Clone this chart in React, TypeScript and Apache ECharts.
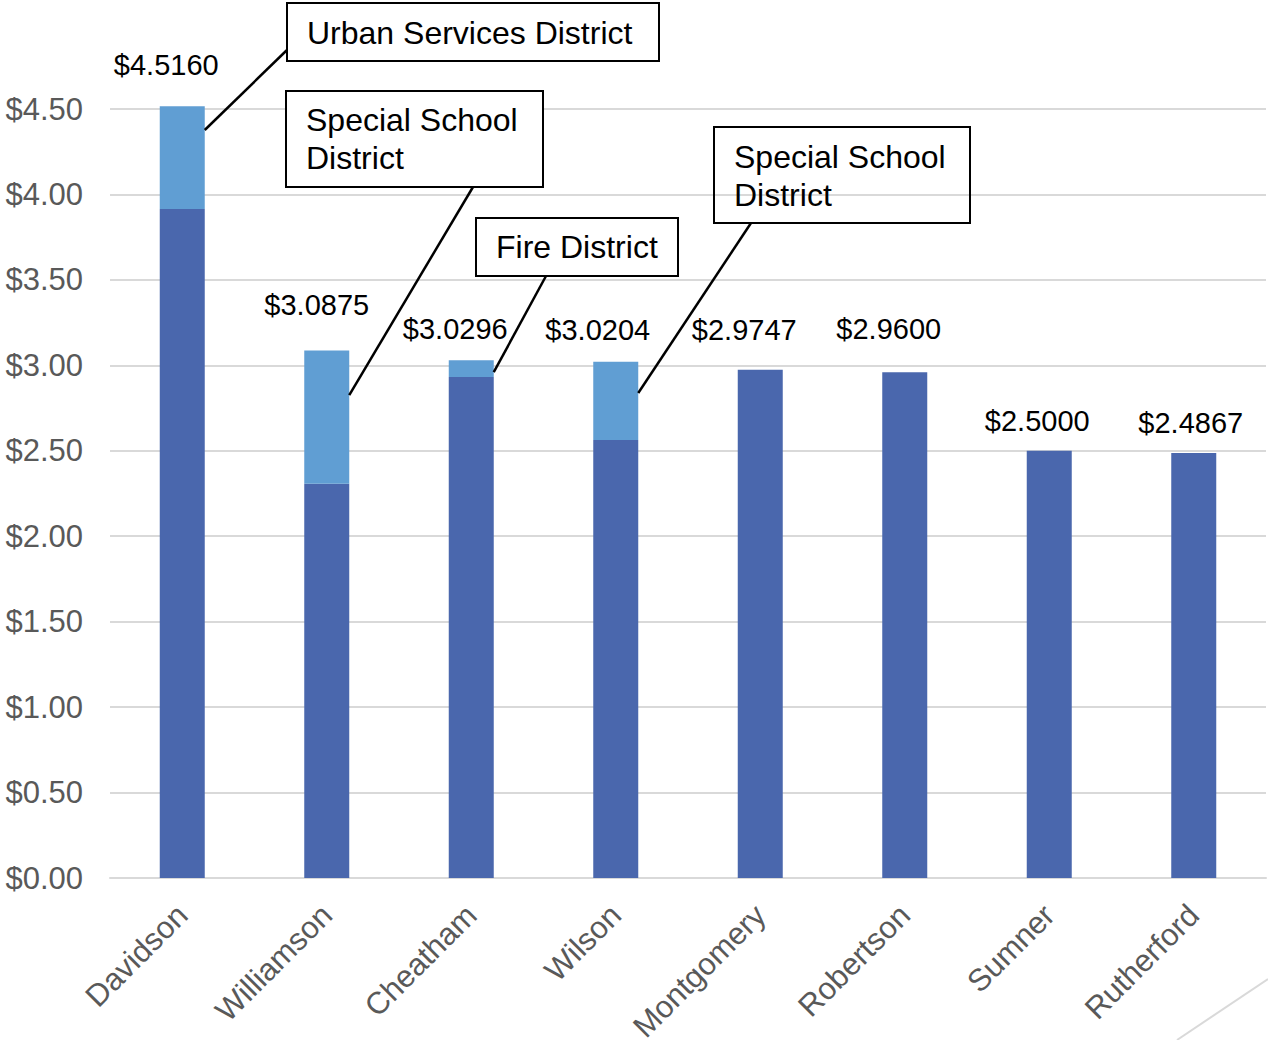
import React, { useEffect, useRef } from "react";
import * as echarts from "echarts";

const counties = ["Davidson", "Williamson", "Cheatham", "Wilson", "Montgomery", "Robertson", "Sumner", "Rutherford"];
const baseRate = [3.915, 2.3075, 2.9316, 2.5634, 2.9747, 2.96, 2.5, 2.4867];
const districtRate = [0.601, 0.78, 0.098, 0.457, 0, 0, 0, 0];
const totalRate = [4.516, 3.0875, 3.0296, 3.0204, 2.9747, 2.96, 2.5, 2.4867];
const yTicks = { min: 0, max: 4.5, interval: 0.5 };

// label nudges (pixels) relative to the top of each stack
const labelOffsets = [[-16, -41], [-10, -45], [-16, -31], [-18, -32], [-16, -40], [-16, -43], [-12, -30], [-3, -30]];

// callouts: category index, value where leader meets the bar, box geometry (px), leader start on box (px)
const callouts = [
  { cat: 0, at: 4.377, lines: "Urban Services District", box: [287, 3, 372, 58], textY: 33, from: [287, 50] },
  { cat: 1, at: 2.826, lines: "Special School\nDistrict", box: [286, 91, 257, 96], textY: 139, from: [473, 187] },
  { cat: 2, at: 2.96, lines: "Fire District", box: [476, 218, 202, 58], textY: 247, from: [546, 276] },
  { cat: 3, at: 2.838, lines: "Special School\nDistrict", box: [714, 127, 256, 96], textY: 176, from: [751, 223] },
];

const FONT = '"Liberation Sans", Arial, sans-serif';
const BAR_W = 45;

export default function App() {
  const ref = useRef<HTMLDivElement>(null);
  useEffect(() => {
    document.body.style.margin = "0";
    const chart = echarts.init(ref.current!, null, { renderer: "svg" });
    chart.setOption({
      animation: false,
      grid: { left: 110, right: 2, top: 109, bottom: 162, containLabel: false, outerBoundsMode: "none" },
      xAxis: {
        type: "category",
        data: counties,
        axisLine: { lineStyle: { color: "#D9D9D9", width: 2 } },
        axisTick: { show: false },
        axisLabel: { rotate: 45, margin: 32, color: "#595959", fontSize: 31, fontFamily: FONT, interval: 0 },
      },
      yAxis: {
        type: "value",
        min: yTicks.min,
        max: yTicks.max,
        interval: yTicks.interval,
        axisLine: { show: false },
        axisTick: { show: false },
        splitLine: { lineStyle: { color: "#D9D9D9", width: 2 } },
        axisLabel: {
          margin: 27,
          color: "#595959",
          fontSize: 31,
          fontFamily: FONT,
          formatter: (v: number) => "$" + v.toFixed(2),
        },
      },
      series: [
        {
          type: "bar",
          name: "Base",
          stack: "t",
          data: baseRate,
          barWidth: BAR_W,
          clip: false,
          itemStyle: { color: "#4A67AD" },
        },
        {
          type: "bar",
          name: "District",
          stack: "t",
          data: districtRate,
          barWidth: BAR_W,
          clip: false,
          itemStyle: { color: "#609ED3" },
        },
        {
          type: "scatter",
          name: "Total",
          clip: false,
          symbolSize: 0,
          silent: true,
          data: totalRate.map((v, i) => ({
            value: v,
            label: { offset: labelOffsets[i] },
          })),
          label: {
            show: true,
            position: "inside",
            color: "#000000",
            opacity: 1,
            fontSize: 29,
            fontFamily: FONT,
            formatter: (p: any) => "$" + Number(p.value).toFixed(4),
          },
        },
      ],
    });

    const graphics: any[] = [];
    callouts.forEach((c) => {
      const pt = chart.convertToPixel({ gridIndex: 0 }, [c.cat, c.at]) as number[];
      const ax = pt[0] + BAR_W / 2;
      const ay = pt[1];
      graphics.push({
        type: "line",
        shape: { x1: c.from[0], y1: c.from[1], x2: ax, y2: ay },
        style: { stroke: "#000000", lineWidth: 2.5 },
        z: 100,
      });
      graphics.push({
        type: "rect",
        shape: { x: c.box[0], y: c.box[1], width: c.box[2], height: c.box[3] },
        style: { fill: c.cat === 3 ? "transparent" : "#FFFFFF", stroke: "#000000", lineWidth: 2 },
        z: 101,
      });
      graphics.push({
        type: "text",
        x: c.box[0] + 20,
        y: c.textY,
        style: {
          text: c.lines,
          font: `32px ${FONT}`,
          fill: "#000000",
          lineHeight: 38,
          verticalAlign: "middle",
          align: "left",
        },
        z: 102,
      });
    });
    graphics.push({
      type: "line",
      shape: { x1: 1177, y1: 1040, x2: 1268, y2: 979 },
      style: { stroke: "#D9D9D9", lineWidth: 2 },
      z: 100,
    });
    chart.setOption({ graphic: graphics });

    return () => chart.dispose();
  }, []);
  return <div ref={ref} style={{ width: 1268, height: 1040 }} />;
}
